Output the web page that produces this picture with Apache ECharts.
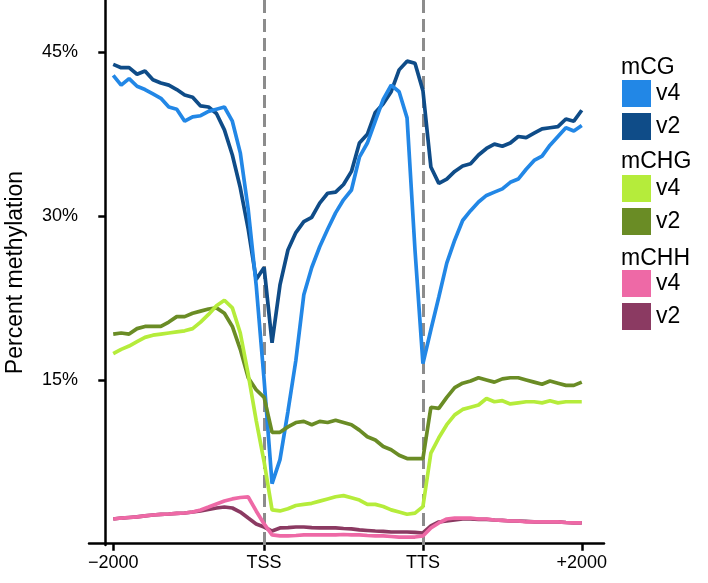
<!DOCTYPE html>
<html>
<head>
<meta charset="utf-8">
<script src="https://cdn.jsdelivr.net/npm/echarts@6/dist/echarts.min.js"></script>
<style>
html,body{margin:0;padding:0;background:#fff;}
#chart{width:708px;height:583px;}
</style>
</head>
<body>
<div id="chart"></div>
<script>
// bin positions along the metagene (1 = -2000, 20 = TSS, 40 = TTS, 60 = +2000)
const bins = [1,2,3,4,5,6,7,8,9,10,11,12,13,14,15,16,17,18,19,20,21,22,23,24,25,26,27,28,29,30,31,32,33,34,35,36,37,38,39,40,41,42,43,44,45,46,47,48,49,50,51,52,53,54,55,56,57,58,59,60];
const xTickBins = [1, 20, 40, 60];
const xTickLabels = ['\u22122000', 'TSS', 'TTS', '+2000'];
const yTickValues = [15, 30, 45];

const cgV4 = [42.9,42.0,42.6,41.9,41.6,41.2,40.8,40.0,39.8,38.7, 39.1,39.2,39.6,39.8,40.0,38.7,35.8,30.6,23.7,15.0, 5.5,7.7,12.1,16.8,22.8,25.3,27.2,28.8,30.3,31.5, 32.4,35.4,36.7,38.7,40.7,42.0,41.4,39.0,26.9,16.5, 19.6,22.6,25.7,27.8,29.6,30.5,31.3,31.9,32.2,32.5, 33.1,33.4,34.3,35.1,35.5,36.5,37.3,38.1,37.8,38.3];
const cgV2 = [43.9,43.6,43.6,43.0,43.3,42.5,42.2,42.0,41.6,41.1, 40.9,40.1,40.0,39.4,37.9,35.6,32.6,28.8,24.2,25.3, 18.4,23.7,26.9,28.5,29.5,29.9,31.2,32.1,32.2,32.9, 34.1,36.7,37.5,39.5,40.3,41.4,43.4,44.2,44.0,41.5, 34.5,33.0,33.4,34.1,34.6,34.8,35.6,36.2,36.6,36.4, 36.7,37.3,37.2,37.6,38.0,38.1,38.2,38.9,38.7,39.7];
const chgV4 = [17.4,17.8,18.1,18.5,18.9,19.1,19.2,19.3,19.4,19.5, 19.7,20.3,21.0,21.8,22.3,21.6,19.3,15.5,11.3,7.5, 3.1,3.0,3.2,3.5,3.6,3.7,3.9,4.1,4.3,4.4, 4.2,4.0,3.6,3.6,3.4,3.1,2.9,2.7,2.8,3.4, 8.3,9.7,10.9,11.8,12.3,12.5,12.7,13.3,13.0,13.1, 12.8,12.9,13.0,13.0,12.9,13.1,12.9,13.0,13.0,13.0];
const chgV2 = [19.2,19.3,19.2,19.7,19.9,19.9,19.9,20.3,20.8,20.8, 21.1,21.3,21.5,21.6,21.1,19.9,17.8,15.2,14.1,13.4, 10.2,10.2,10.7,11.1,11.2,10.9,11.2,11.1,11.3,11.1, 10.9,10.4,9.8,9.5,8.9,8.6,8.1,7.8,7.8,7.8, 12.5,12.4,13.4,14.3,14.7,14.9,15.2,15.0,14.8,15.1, 15.2,15.2,15.0,14.8,14.6,14.9,14.7,14.5,14.5,14.8];
const chhV4 = [2.26,2.35,2.40,2.45,2.54,2.63,2.68,2.72,2.77,2.81, 2.90,3.09,3.36,3.64,3.91,4.10,4.23,4.28,3.00,1.81, 0.80,0.71,0.71,0.75,0.80,0.80,0.80,0.80,0.80,0.84, 0.80,0.80,0.75,0.71,0.71,0.66,0.61,0.61,0.61,0.71, 1.44,1.90,2.26,2.35,2.35,2.35,2.26,2.26,2.17,2.13, 2.08,2.08,1.99,1.99,1.99,1.99,1.99,1.94,1.90,1.90];
const chhV2 = [2.26,2.35,2.40,2.45,2.54,2.63,2.68,2.72,2.77,2.81, 2.90,3.00,3.13,3.27,3.36,3.27,2.90,2.35,1.81,1.53, 1.16,1.44,1.48,1.53,1.53,1.48,1.44,1.44,1.44,1.39, 1.35,1.26,1.21,1.16,1.12,1.07,1.07,1.07,1.03,0.98, 1.62,1.99,2.08,2.17,2.26,2.26,2.22,2.22,2.17,2.13, 2.08,2.08,2.04,1.99,1.99,1.99,1.99,1.94,1.90,1.90];

const groupTitles = ['mCG', 'mCHG', 'mCHH'];
const versions = ['v4', 'v2'];

const colors = {
  'mCG v4': '#2287E6', 'mCG v2': '#0F4C88',
  'mCHG v4': '#B5EC3B', 'mCHG v2': '#6A8C25',
  'mCHH v4': '#EE69A6', 'mCHH v2': '#8B3A62'
};

const FONT = 'Liberation Sans, Arial, Helvetica, sans-serif';

function pairs(vals) { return bins.map((b, i) => [b, vals[i]]); }
function mk(name, vals, extra) {
  return Object.assign({
    name: name, type: 'line', data: pairs(vals), showSymbol: false, symbol: 'none',
    lineStyle: { width: 3.7, color: colors[name] }, itemStyle: { color: colors[name] },
    z: 3
  }, extra || {});
}

const series = [
  mk('mCG v2', cgV2, {
    markLine: {
      silent: true, symbol: 'none', label: { show: false },
      lineStyle: { color: '#8c8c8c', width: 3, type: [13, 6] },
      data: [{ xAxis: 20 }, { xAxis: 40 }], z: 2
    }
  }),
  mk('mCG v4', cgV4),
  mk('mCHG v2', chgV2),
  mk('mCHG v4', chgV4),
  mk('mCHH v2', chhV2),
  mk('mCHH v4', chhV4)
];

const legendTops = [80, 175, 270];
const titleYs = [69, 163, 260];

const legends = groupTitles.map((g, k) => ({
  orient: 'vertical', left: 622, top: legendTops[k], padding: 0, itemGap: 6,
  itemWidth: 29, itemHeight: 27, icon: 'rect', selectedMode: false,
  data: versions.map(v => g + ' ' + v),
  formatter: n => n.split(' ')[1],
  textStyle: { fontSize: 23, color: '#000', fontFamily: FONT, lineHeight: 27 }
}));

const chart = echarts.init(document.getElementById('chart'), null, { renderer: 'canvas' });
chart.setOption({
  animation: false,
  backgroundColor: '#fff',
  grid: { left: 89, right: 104, top: 0, bottom: 38, containLabel: false, outerBoundsMode: 'none' },
  legend: legends,
  graphic: groupTitles.map((g, k) => ({
    type: 'text', left: 621, top: titleYs[k] - 13,
    style: { text: g, fontSize: 23, fill: '#000', fontFamily: FONT }
  })),
  xAxis: {
    type: 'value', min: -2.05, max: 62.8,
    splitLine: { show: false },
    axisLine: { show: true, lineStyle: { color: '#000', width: 2.5 } },
    axisTick: { show: true, customValues: xTickBins, length: 7, lineStyle: { color: '#000', width: 2.5 } },
    axisLabel: {
      customValues: xTickBins, margin: 9, fontSize: 18, color: '#000', fontFamily: FONT,
      formatter: v => xTickLabels[xTickBins.indexOf(v)] || ''
    }
  },
  yAxis: {
    type: 'value', min: -0.12, max: 49.8,
    name: 'Percent methylation', nameLocation: 'middle', nameGap: 62, nameRotate: 90,
    nameTextStyle: { fontSize: 23, color: '#000', fontFamily: FONT },
    splitLine: { show: false },
    axisLine: { show: true, lineStyle: { color: '#000', width: 2.5 } },
    axisTick: { show: true, customValues: yTickValues, length: 7, lineStyle: { color: '#000', width: 2.5 } },
    axisLabel: {
      customValues: yTickValues, margin: 11, fontSize: 18, color: '#000', fontFamily: FONT,
      formatter: v => v + '%'
    }
  },
  series: series
});
</script>
</body>
</html>
